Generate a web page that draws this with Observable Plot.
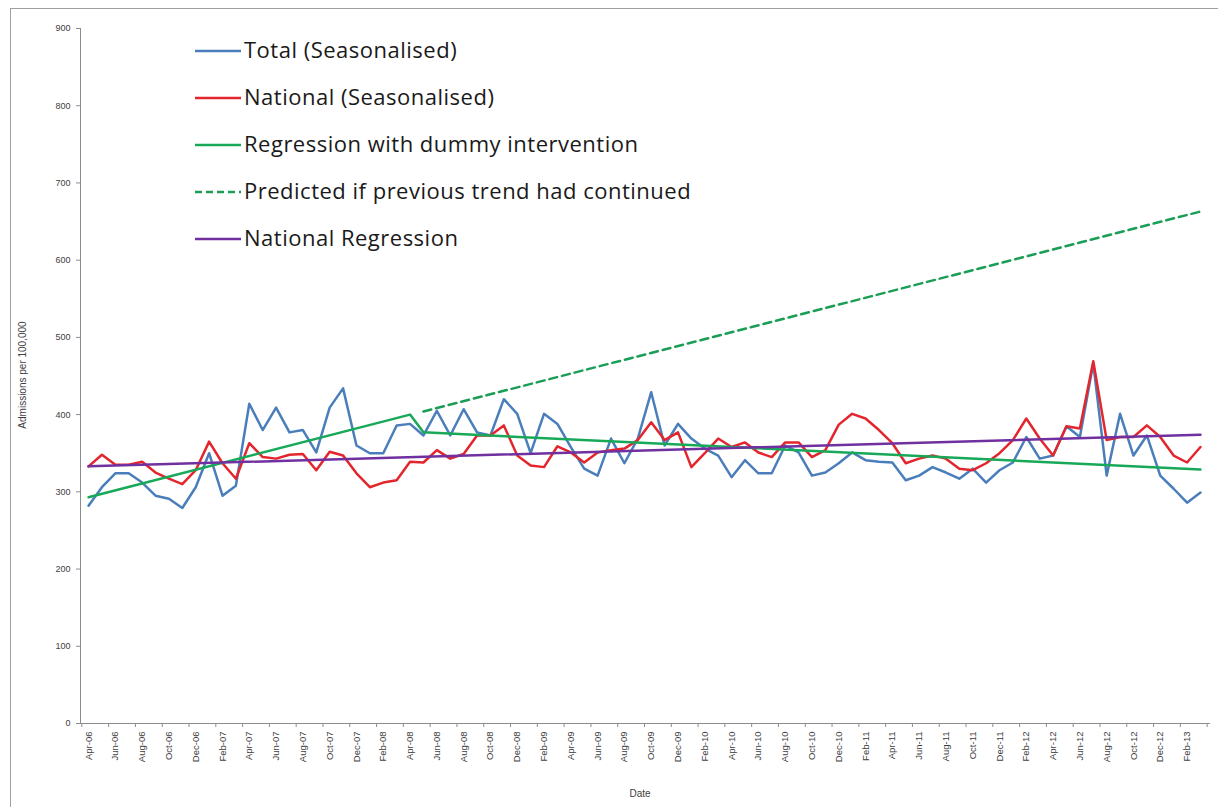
<!DOCTYPE html>
<html><head><meta charset="utf-8">
<script src="https://cdn.jsdelivr.net/npm/d3@7"></script>
<script src="https://cdn.jsdelivr.net/npm/@observablehq/plot@0.6"></script>
<style>
html,body{margin:0;padding:0;background:#fff;overflow:hidden;}
#wrap{position:relative;width:1218px;height:807px;font-family:"Liberation Sans",Arial,sans-serif;}
#frame{position:absolute;left:10px;top:8px;width:1220px;height:820px;border:1px solid #a0a0a0;box-sizing:border-box;pointer-events:none;}
#ylab{position:absolute;left:22px;top:375px;transform:translate(-50%,-50%) rotate(-90deg);font-size:10px;color:#404040;white-space:nowrap;}
#xlab{position:absolute;left:640px;top:788px;transform:translateX(-50%);font-size:10px;color:#404040;}
#legend{position:absolute;left:195px;top:34px;font-family:"Open Sans",Lato,sans-serif;font-size:22px;letter-spacing:0.5px;color:#1a1a1a;}
.row{height:47px;display:flex;align-items:flex-start;}
.row svg{margin-top:7px;margin-right:3px;}
</style></head><body><div id="wrap"><div id="frame"></div><div id="ylab">Admissions per 100,000</div><div id="xlab">Date</div></div>
<script>
// Tick labels, one every two months (Apr-06 ... Feb-13)
const tickLabels = ["Apr-06","Jun-06","Aug-06","Oct-06","Dec-06","Feb-07","Apr-07","Jun-07","Aug-07","Oct-07","Dec-07","Feb-08","Apr-08","Jun-08","Aug-08","Oct-08","Dec-08","Feb-09","Apr-09","Jun-09","Aug-09","Oct-09","Dec-09","Feb-10","Apr-10","Jun-10","Aug-10","Oct-10","Dec-10","Feb-11","Apr-11","Jun-11","Aug-11","Oct-11","Dec-11","Feb-12","Apr-12","Jun-12","Aug-12","Oct-12","Dec-12","Feb-13"];
const yTicks = [0,100,200,300,400,500,600,700,800,900];

// Monthly series, Apr-06 .. Mar-13 (84 months)
const totalSeasonalised = [282,306,324,324,312,295,291,279,306,350,295,308,414,380,409,377,380,351,409,434,360,350,350,386,388,373,405,373,407,377,373,420,401,350,401,388,358,330,321,369,337,369,429,360,388,369,356,347,319,341,324,324,360,351,321,325,337,351,341,339,338,315,321,332,325,317,330,312,328,338,371,343,347,385,371,466,321,401,347,373,321,304,286,299];
const nationalSeasonalised = [333,348,335,335,339,325,317,310,328,365,337,317,363,345,343,348,349,328,352,347,324,306,312,315,339,338,354,343,349,373,373,386,347,334,332,359,351,338,351,354,356,367,390,367,377,332,350,369,358,364,351,345,364,364,345,354,387,401,395,380,363,337,343,347,343,330,328,337,350,367,395,369,347,385,382,469,367,371,371,386,371,347,338,358];

// Fitted lines (month index, value at vertices)
const interventionMonths = [0,24,25,83];
const interventionValues = [293,400,377,329];
const predictedMonths = [25,83];
const predictedValues = [404,663];
const nationalFitMonths = [0,83];
const nationalFitValues = [333,374];

const C = {total:"#4a7ebb", national:"#e3262d", fit:"#17a957", pred:"#1a9e55", nat:"#7030a0"};

const series = (vals, months) => vals.map((v,k)=>({m: months ? months[k] : k, v}));
const totalData = series(totalSeasonalised);
const nationalData = series(nationalSeasonalised);
const interData = series(interventionValues, interventionMonths);
const predData = series(predictedValues, predictedMonths);
const natFitData = series(nationalFitValues, nationalFitMonths);

const labelPos = tickLabels.map((_,k)=>2*k);
const boundaryTicks = d3.range(0,85,2).map(k=>k-0.5);
const xMin = -0.6, xMax = 83.75;

const chart = Plot.plot({
  width: 1218, height: 807,
  marginLeft: 80, marginRight: 8, marginTop: 28, marginBottom: 84,
  x: {type:"linear", domain:[xMin,xMax]},
  y: {domain:[0,900]},
  style: {fontFamily:"Liberation Sans, Arial, sans-serif", fontSize:"9px", color:"#404040", background:"transparent"},
  marks: [
    Plot.axisY(yTicks, {tickSize:4, tickPadding:6, stroke:"#8c8c8c", fill:"#404040", label:null, fontSize:9}),
    Plot.axisX(boundaryTicks, {tickSize:4, tickFormat:()=>"", stroke:"#8c8c8c", label:null}),
    Plot.axisX(labelPos, {tickSize:0, tickPadding:8, tickRotate:-90, tickFormat:(d)=>tickLabels[d/2], fill:"#404040", label:null, fontSize:9.5}),
    Plot.ruleX([xMin], {y1:0, y2:900, stroke:"#8c8c8c"}),
    Plot.ruleY([0], {x1:xMin, x2:xMax, stroke:"#8c8c8c"}),
    Plot.line(totalData, {x:"m", y:"v", stroke:C.total, strokeWidth:2.5, strokeLinejoin:"round"}),
    Plot.line(nationalData, {x:"m", y:"v", stroke:C.national, strokeWidth:2.5, strokeLinejoin:"round"}),
    Plot.line(interData, {x:"m", y:"v", stroke:C.fit, strokeWidth:2.5}),
    Plot.line(predData, {x:"m", y:"v", stroke:C.pred, strokeWidth:2.5, strokeDasharray:"8,5"}),
    Plot.line(natFitData, {x:"m", y:"v", stroke:C.nat, strokeWidth:2.5})
  ]
});
chart.style.position = "absolute";
chart.style.left = "0px";
chart.style.top = "0px";
const wrap = document.getElementById("wrap");
wrap.insertBefore(chart, wrap.firstChild);

// Legend
const legendItems = [
  {label:"Total (Seasonalised)", color:C.total, dash:null},
  {label:"National (Seasonalised)", color:C.national, dash:null},
  {label:"Regression with dummy intervention", color:C.fit, dash:null},
  {label:"Predicted if previous trend had continued", color:C.pred, dash:"7,4"},
  {label:"National Regression", color:C.nat, dash:null}
];
const leg = document.createElement("div");
leg.id = "legend";
legendItems.forEach(it=>{
  const row = document.createElement("div");
  row.className = "row";
  row.innerHTML = `<svg width="46" height="20"><line x1="0" x2="46" y1="10" y2="10" stroke="${it.color}" stroke-width="2.5" ${it.dash?`stroke-dasharray="${it.dash}"`:""}/></svg><span>${it.label}</span>`;
  leg.appendChild(row);
});
wrap.appendChild(leg);
</script>
</body></html>
